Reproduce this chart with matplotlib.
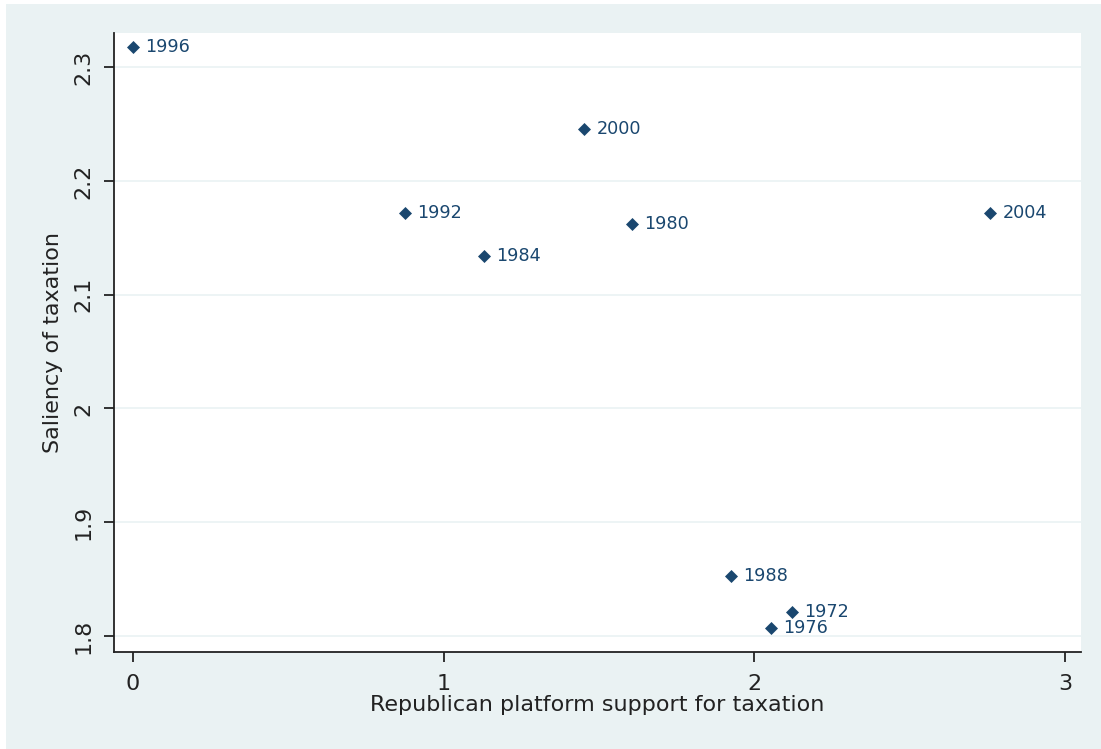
import matplotlib.pyplot as plt
from matplotlib.patches import Rectangle

# Republican platform support vs. saliency of taxation, by election year
years = ["1996", "2000", "1992", "1984", "1980", "2004", "1988", "1972", "1976"]
support = [0.0, 1.452, 0.875, 1.13, 1.606, 2.758, 1.925, 2.121, 2.053]
saliency = [2.318, 2.246, 2.172, 2.134, 2.162, 2.172, 1.853, 1.821, 1.807]

x_ticks = [0, 1, 2, 3]
y_ticks = [1.8, 1.9, 2.0, 2.1, 2.2, 2.3]
y_tick_labels = ["1.8", "1.9", "2", "2.1", "2.2", "2.3"]

bg = "#eaf2f3"
navy = "#1a476f"
ink = "#222222"

plt.rcParams["font.family"] = "DejaVu Sans"

W, H = 1101, 749
fig = plt.figure(figsize=(11.01, 7.49), dpi=100, facecolor=bg)
# thin white strips on the top and left edge, as in the screenshot
fig.patches.append(Rectangle((0, 0), 6 / W, 1, transform=fig.transFigure,
                             facecolor="white", edgecolor="none"))
fig.patches.append(Rectangle((0, 1 - 4 / H), 1, 4 / H, transform=fig.transFigure,
                             facecolor="white", edgecolor="none"))

# plot area in pixels: left 114, right 1081, top 33, bottom 652
ax = fig.add_axes([114 / W, 1 - 652 / H, (1081 - 114) / W, (652 - 33) / H])
ax.set_facecolor("white")

ax.scatter(support, saliency, marker="D", s=44, color=navy, zorder=3,
           linewidths=0)
for x, y, lab in zip(support, saliency, years):
    ax.annotate(lab, (x, y), xytext=(9, 0), textcoords="offset points",
                va="center", ha="left", color=navy, fontsize=12.7)

ax.set_xlim(-0.061, 3.051)
ax.set_ylim(1.786, 2.33)

ax.set_xticks(x_ticks)
ax.set_yticks(y_ticks)
ax.set_yticklabels(y_tick_labels, rotation=90, va="center")

ax.grid(axis="y", color=bg, linewidth=1.2)
ax.grid(axis="x", visible=False)
ax.set_axisbelow(True)

for side in ["top", "right"]:
    ax.spines[side].set_visible(False)
for side in ["left", "bottom"]:
    ax.spines[side].set_color(ink)
    ax.spines[side].set_linewidth(1.3)

ax.tick_params(axis="both", direction="out", length=7, width=1.3,
               color=ink, labelsize=16, labelcolor=ink)
ax.tick_params(axis="y", pad=8)
ax.tick_params(axis="x", pad=8.5)

ax.set_xlabel("Republican platform support for taxation", fontsize=16,
              color=ink, labelpad=1)
ax.set_ylabel("Saliency of taxation", fontsize=16, color=ink,
              labelpad=7)

fig.savefig("out.png", dpi=100, facecolor=fig.get_facecolor())
